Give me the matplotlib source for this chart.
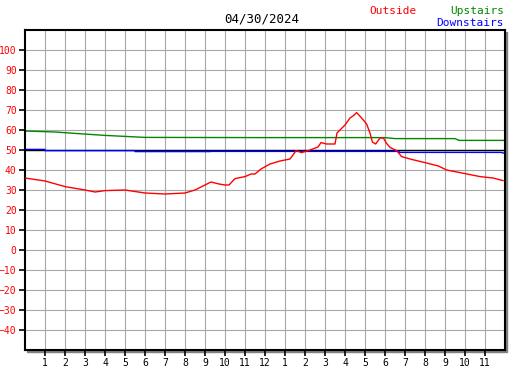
import matplotlib
matplotlib.use("Agg")
import matplotlib.pyplot as plt
from matplotlib.patches import Rectangle

# hours since midnight, and temperatures (F)
out_hours = [0, 1, 2, 3, 3.5, 4, 5, 6, 7, 8, 8.5, 9, 9.3, 9.7, 10, 10.2, 10.5, 11, 11.3, 11.5,
             11.8, 12.25, 12.75, 13.25, 13.4, 13.55, 13.83, 14.25, 14.65, 14.8, 15.08, 15.5,
             15.6, 16, 16.25, 16.4, 16.58, 16.83, 17.08, 17.25, 17.37, 17.53, 17.75, 17.92,
             18.08, 18.25, 18.58, 18.83, 19.33, 20, 20.67, 21.08, 21.75, 22.75, 23.4, 23.9]
outside = [36, 34.5, 31.7, 30, 29, 29.7, 30, 28.5, 28, 28.5, 30, 32.5, 34, 33, 32.5, 32.5, 35.7,
           36.7, 38, 38, 40.5, 43, 44.5, 45.5, 47.5, 49.7, 48.7, 50, 51.5, 53.7, 53, 53,
           58.5, 62.5, 66, 67, 68.7, 66, 63, 58.5, 54, 53, 56, 56,
           53.3, 51.3, 49.7, 46.7, 45.3, 43.7, 42, 40, 38.7, 36.7, 36, 34.7]

up_hours = [0, 1.5, 2.5, 4, 5, 6, 12, 18, 18.5, 21.5, 21.7, 24]
upstairs = [59.5, 59, 58.3, 57.3, 56.8, 56.3, 56.2, 56.2, 55.7, 55.7, 54.8, 54.8]

down_hours = [0, 1, 1, 5.5, 5.5, 9.25, 9.25, 18.7, 18.7, 23.8, 24]
downstairs = [50.3, 50.3, 49.7, 49.7, 49.2, 49.2, 49.3, 49.3, 48.8, 48.8, 48.3]

xtick_pos = list(range(1, 24))
xtick_labels = [str(h) for h in range(1, 13)] + [str(h) for h in range(1, 12)]
ytick_pos = list(range(-40, 101, 10))

W, H = 527, 370
fig = plt.figure(figsize=(W / 100, H / 100), dpi=100)
left, right, top, bottom = 25, 505, 30, 350
ax = fig.add_axes([left / W, (H - bottom) / H, (right - left) / W, (bottom - top) / H])

# drop shadow
fig.patches.append(Rectangle(((left + 2) / W, (H - bottom - 2) / H), (right - left) / W,
                             (bottom - top) / H, transform=fig.transFigure,
                             color='#808080', zorder=0))
ax.set_zorder(1)

ax.set_xlim(0, 24)
ax.set_ylim(-50, 110)
ax.set_xticks(xtick_pos)
ax.set_xticklabels(xtick_labels)
ax.set_yticks(ytick_pos)
ax.grid(True, color='#a8a8a8', linewidth=0.8, zorder=0)
ax.set_axisbelow(True)
ax.tick_params(direction='out', length=4, width=1.2, pad=2, labelsize=7)
ax.tick_params(axis='y', labelcolor='red')
for lab in ax.get_xticklabels() + ax.get_yticklabels():
    lab.set_family('DejaVu Sans Mono')
for s in ax.spines.values():
    s.set_linewidth(1.5)
    s.set_color('black')

ax.axhline(50, color='black', linewidth=1.0, zorder=1.5)
ax.plot(up_hours, upstairs, color='#008800', linewidth=1.0, zorder=2)
ax.plot(down_hours, downstairs, color='#0000ff', linewidth=1.0, zorder=2)
ax.plot(out_hours, outside, color='#ff0000', linewidth=1.0, zorder=3)

fig.text(262 / W, 1 - 19 / H, "04/30/2024", ha='center', va='center',
         family='DejaVu Sans Mono', fontsize=9)
fig.text(393 / W, 1 - 11 / H, "Outside", ha='center', va='center',
         family='DejaVu Sans Mono', fontsize=8, color='red')
fig.text(504 / W, 1 - 11 / H, "Upstairs", ha='right', va='center',
         family='DejaVu Sans Mono', fontsize=8, color='#008800')
fig.text(504 / W, 1 - 23 / H, "Downstairs", ha='right', va='center',
         family='DejaVu Sans Mono', fontsize=8, color='#0000ff')

fig.savefig("out.png", dpi=100)
